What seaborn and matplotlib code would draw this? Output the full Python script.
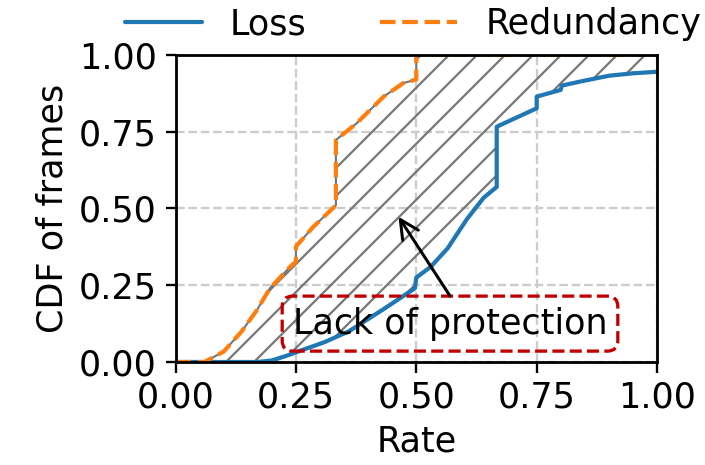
import numpy as np
import pandas as pd
import matplotlib
matplotlib.use("Agg")
import matplotlib.pyplot as plt
import seaborn as sns

# ---- data ----
loss_x = [0.0, 0.17, 0.20, 0.23, 0.265, 0.31, 0.36, 0.43, 0.497, 0.50, 0.53, 0.565, 0.605,
          0.64, 0.667, 0.667, 0.70, 0.75, 0.75, 0.80, 0.802, 0.84, 0.90, 0.95, 1.0]
loss_y = [0.0, 0.0, 0.005, 0.02, 0.04, 0.065, 0.10, 0.17, 0.24, 0.275, 0.31, 0.37, 0.465,
          0.535, 0.57, 0.766, 0.79, 0.826, 0.864, 0.886, 0.90, 0.913, 0.932, 0.94, 0.945]

red_x = [0.0, 0.06, 0.10, 0.137, 0.169, 0.196, 0.238, 0.25, 0.25, 0.286, 0.333, 0.333,
         0.376, 0.432, 0.473, 0.50, 0.50, 1.0]
red_y = [0.0, 0.0, 0.034, 0.099, 0.169, 0.24, 0.31, 0.327, 0.376, 0.44, 0.51, 0.723,
         0.777, 0.864, 0.908, 0.92, 1.0, 1.0]

ticks = [0.0, 0.25, 0.5, 0.75, 1.0]
tick_labels = ["0.00", "0.25", "0.50", "0.75", "1.00"]

# ---- style ----
sns.set_style("ticks")
DPI = 168
FS = 15
plt.rcParams.update({
    "font.family": ["DejaVu Sans"],
    "font.size": FS,
    "text.color": "black",
    "axes.labelcolor": "black",
    "hatch.linewidth": 0.95,
    "axes.linewidth": 1.2,
    "xtick.major.size": 4.5,
    "ytick.major.size": 4.5,
    "xtick.major.width": 1.0,
    "ytick.major.width": 1.0,
    "xtick.color": "black",
    "ytick.color": "black",
    "axes.edgecolor": "black",
})

fig = plt.figure(figsize=(705 / DPI, 465 / DPI), dpi=DPI)
ax = fig.add_axes([0.249, 0.2215, 0.932 - 0.249, 0.882 - 0.2215])

ax.grid(True, linestyle="--", color="#cccccc", linewidth=1.0)
ax.set_axisbelow(True)

# hatched region between curves
poly_x = np.concatenate([np.array(red_x), np.array(loss_x)[::-1]])
poly_y = np.concatenate([np.array(red_y), np.array(loss_y)[::-1]])
ax.fill(poly_x, poly_y, facecolor="none", edgecolor="#767676", hatch="//", linewidth=0.9, zorder=1.5)

df_loss = pd.DataFrame({"x": loss_x, "y": loss_y})
df_red = pd.DataFrame({"x": red_x, "y": red_y})
sns.lineplot(data=df_loss, x="x", y="y", estimator=None, sort=False, ax=ax,
             color="#1f77b4", linewidth=1.8, label="Loss", zorder=2)
sns.lineplot(data=df_red, x="x", y="y", estimator=None, sort=False, ax=ax,
             color="#ff7f0e", linewidth=1.8, linestyle="--", label="Redundancy", zorder=2)

ax.set_xlim(0, 1)
ax.set_ylim(0, 1)
ax.set_xticks(ticks)
ax.set_xticklabels(tick_labels)
ax.set_yticks(ticks)
ax.set_yticklabels(tick_labels)
ax.tick_params(labelsize=FS)
ax.set_xlabel("Rate", fontsize=FS)
ax.set_ylabel("CDF of frames", fontsize=FS)
for s in ax.spines.values():
    s.set_visible(True)
    s.set_zorder(3)

# annotation
ax.text(0.570, 0.125, "Lack of protection", ha="center", va="center", fontsize=FS,
        bbox=dict(boxstyle="round,pad=0.3", fc="none", ec="#c00000", ls="--", lw=1.4),
        zorder=4)
ax.annotate("", xy=(0.463, 0.473), xytext=(0.570, 0.215),
            arrowprops=dict(arrowstyle="->", color="black", lw=1.3, mutation_scale=20,
                            shrinkA=0, shrinkB=0), zorder=4)

ax.get_legend().remove()
h, l = ax.get_legend_handles_labels()
fig.legend(h, l, loc="center", bbox_to_anchor=(0.586, 0.948), ncol=2, frameon=False,
           fontsize=FS, handlelength=2.2, handletextpad=0.8, columnspacing=2.1)

fig.savefig("out.png", dpi=DPI)
